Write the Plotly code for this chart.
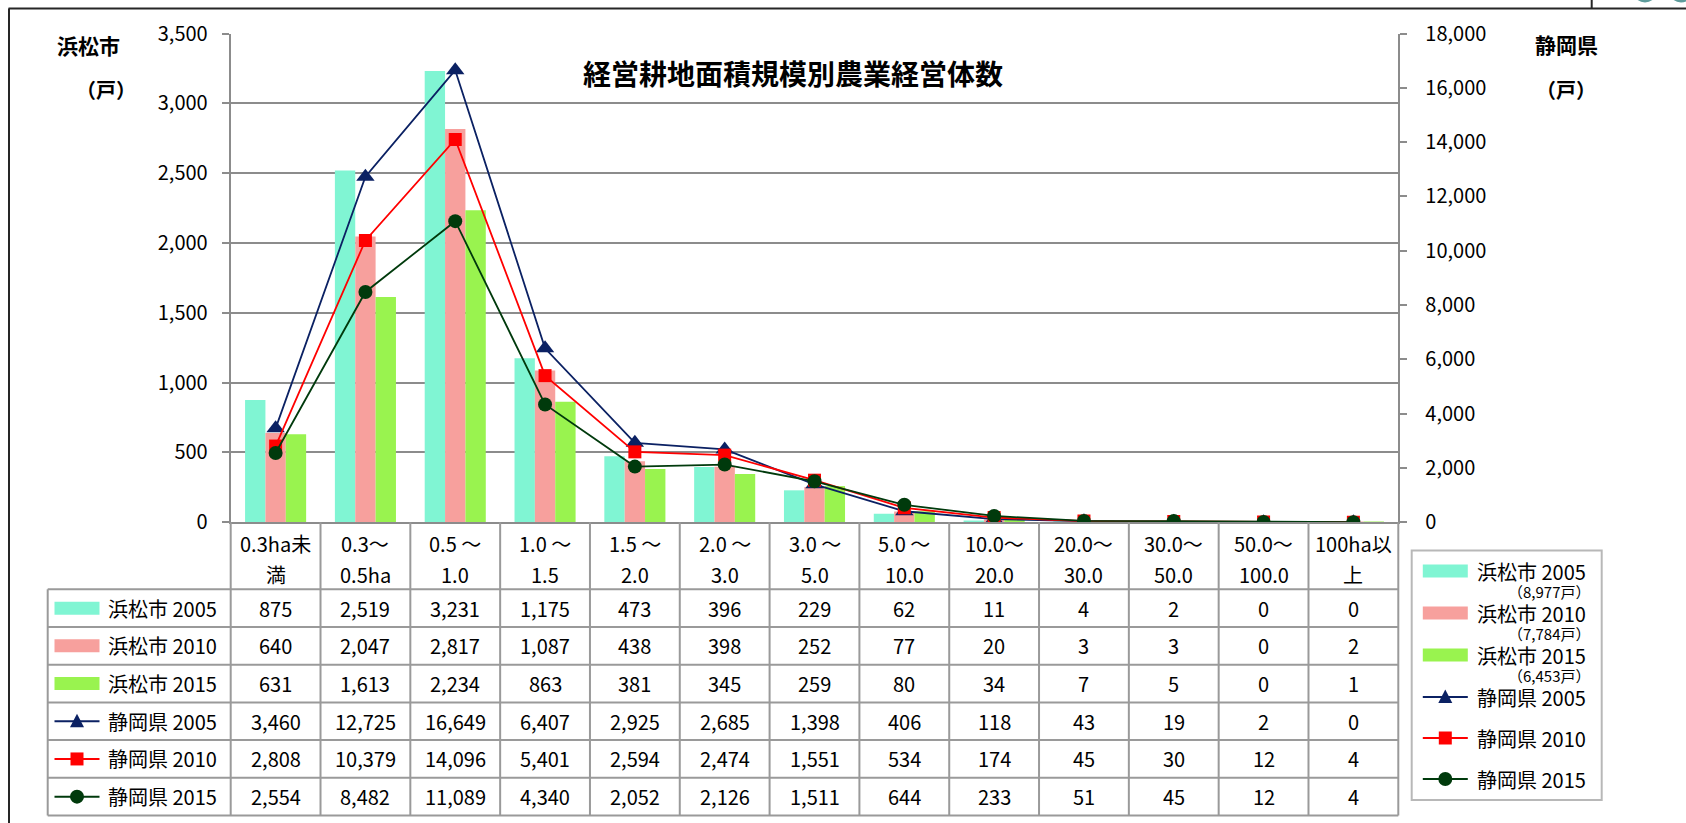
import plotly.graph_objects as go

W, H = 1686, 823

# ---- data -------------------------------------------------------------
categories = [
    "0.3ha未満", "0.3～0.5ha", "0.5 ～1.0", "1.0 ～1.5", "1.5 ～2.0",
    "2.0 ～3.0", "3.0 ～5.0", "5.0 ～10.0", "10.0～20.0", "20.0～30.0",
    "30.0～50.0", "50.0～100.0", "100ha以上",
]
header_top = ["0.3ha未", "0.3～", "0.5 ～", "1.0 ～", "1.5 ～", "2.0 ～", "3.0 ～",
              "5.0 ～", "10.0～", "20.0～", "30.0～", "50.0～", "100ha以"]
header_bottom = ["満", "0.5ha", "1.0", "1.5", "2.0", "3.0", "5.0",
                 "10.0", "20.0", "30.0", "50.0", "100.0", "上"]

hamamatsu_2005 = [875, 2519, 3231, 1175, 473, 396, 229, 62, 11, 4, 2, 0, 0]
hamamatsu_2010 = [640, 2047, 2817, 1087, 438, 398, 252, 77, 20, 3, 3, 0, 2]
hamamatsu_2015 = [631, 1613, 2234, 863, 381, 345, 259, 80, 34, 7, 5, 0, 1]
shizuoka_2005 = [3460, 12725, 16649, 6407, 2925, 2685, 1398, 406, 118, 43, 19, 2, 0]
shizuoka_2010 = [2808, 10379, 14096, 5401, 2594, 2474, 1551, 534, 174, 45, 30, 12, 4]
shizuoka_2015 = [2554, 8482, 11089, 4340, 2052, 2126, 1511, 644, 233, 51, 45, 12, 4]

series_names = ["浜松市 2005", "浜松市 2010", "浜松市 2015",
                "静岡県 2005", "静岡県 2010", "静岡県 2015"]

left_ticks = [0, 500, 1000, 1500, 2000, 2500, 3000, 3500]
right_ticks = list(range(0, 18001, 2000))

# ---- styles -------------------------------------------------------------
FONT = "Noto Sans CJK JP"
BAR_COLORS = ["#80F5D3", "#F7A09D", "#99F34F"]
LINE_COLORS = ["#0B2163", "#FF0000", "#003A0C"]
MARKERS = ["triangle-up", "square", "circle"]
MARKER_SIZES = [16, 13, 14]
GRID = "#8C8C8C"
TABLE_LINE = "#9A9A9A"

# pixel layout
PL, PR, PT, PB = 230.7, 1398.3, 33.5, 522.3
TL = 47.7
HEAD_B = 589.3
ROW_H = 37.7
N = len(categories)
COL_W = (PR - PL) / N


def px(x):
    return x / W


def py(y):
    return 1 - y / H


fig = go.Figure()

bar_series = [hamamatsu_2005, hamamatsu_2010, hamamatsu_2015]
line_series = [shizuoka_2005, shizuoka_2010, shizuoka_2015]

for i, vals in enumerate(bar_series):
    fig.add_trace(go.Bar(
        x=categories, y=vals, name=series_names[i],
        marker=dict(color=BAR_COLORS[i], line=dict(width=0)),
        yaxis="y", showlegend=False,
    ))

for i, vals in enumerate(line_series):
    fig.add_trace(go.Scatter(
        x=categories, y=vals, name=series_names[3 + i], yaxis="y2",
        mode="lines+markers",
        line=dict(color=LINE_COLORS[i], width=1.8),
        marker=dict(symbol=MARKERS[i], size=MARKER_SIZES[i],
                    color=LINE_COLORS[i], line=dict(width=0)),
        showlegend=False,
    ))

shapes = []
annotations = []


def line(x0, y0, x1, y1, color=TABLE_LINE, width=2):
    shapes.append(dict(type="line", xref="paper", yref="paper",
                       x0=px(x0), y0=py(y0), x1=px(x1), y1=py(y1),
                       line=dict(color=color, width=width), layer="above"))


def text(x, y, s, size=20, bold=False, xanchor="center", color="#000000"):
    annotations.append(dict(
        x=px(x), y=py(y), xref="paper", yref="paper", text=s, showarrow=False,
        xanchor=xanchor, yanchor="middle",
        font=dict(family=FONT, size=size, color=color,
                  weight=700 if bold else 400),
    ))


def swatch(cx, cy, kind, idx, half=22.5):
    """Legend key: a filled bar block or a line with its marker."""
    if kind == "bar":
        shapes.append(dict(type="rect", xref="paper", yref="paper",
                           x0=px(cx - half), x1=px(cx + half),
                           y0=py(cy + 6.5), y1=py(cy - 6.5),
                           fillcolor=BAR_COLORS[idx], line=dict(width=0),
                           layer="above"))
        return
    c = LINE_COLORS[idx]
    line(cx - half, cy, cx + half, cy, color=c, width=2)
    if idx == 0:
        path = (f"M {px(cx - 7)},{py(cy + 6)} L {px(cx + 7)},{py(cy + 6)} "
                f"L {px(cx)},{py(cy - 7.5)} Z")
        shapes.append(dict(type="path", xref="paper", yref="paper", path=path,
                           fillcolor=c, line=dict(width=0), layer="above"))
    elif idx == 1:
        shapes.append(dict(type="rect", xref="paper", yref="paper",
                           x0=px(cx - 6.5), x1=px(cx + 6.5),
                           y0=py(cy + 6.5), y1=py(cy - 6.5),
                           fillcolor=c, line=dict(width=0), layer="above"))
    else:
        r = 7
        shapes.append(dict(type="circle", xref="paper", yref="paper",
                           x0=px(cx - r), x1=px(cx + r), y0=py(cy + r), y1=py(cy - r),
                           fillcolor=c, line=dict(width=0), layer="above"))


# ---- data table under the plot -------------------------------------------
table_rows = bar_series + line_series
bottom = HEAD_B + ROW_H * len(table_rows)

# vertical rules
for k in range(N + 1):
    line(PL + k * COL_W, PB, PL + k * COL_W, bottom)
line(TL, HEAD_B, TL, bottom)
# horizontal rules
for r in range(len(table_rows) + 1):
    yy = HEAD_B + r * ROW_H
    line(TL, yy, PR, yy)

for k in range(N):
    cx = PL + (k + 0.5) * COL_W
    text(cx, 543.5, header_top[k])
    text(cx, 574.5, header_bottom[k])

for r, vals in enumerate(table_rows):
    cy = HEAD_B + (r + 0.5) * ROW_H
    kind = "bar" if r < 3 else "line"
    swatch(77, cy, kind, r % 3)
    text(106, cy, series_names[r], xanchor="left")
    for k, v in enumerate(vals):
        text(PL + (k + 0.5) * COL_W, cy, f"{v:,}")

# ---- legend box ----------------------------------------------------------
shapes.append(dict(type="rect", xref="paper", yref="paper",
                   x0=px(1411.7), x1=px(1601.7), y0=py(800), y1=py(550.5),
                   line=dict(color="#B8B8B8", width=2), fillcolor="rgba(0,0,0,0)"))
legend_y = [571, 613, 655, 697, 738, 779]
for r in range(6):
    kind = "bar" if r < 3 else "line"
    swatch(1445.3, legend_y[r], kind, r % 3)
    text(1475, legend_y[r], series_names[r], xanchor="left")
for r in range(3):
    total = sum(bar_series[r])
    text(1592, legend_y[r] + 20, f"（{total:,}戸）", size=15, xanchor="right")

# ---- titles --------------------------------------------------------------
text(793, 73, "経営耕地面積規模別農業経営体数", size=28, bold=True)
text(88, 45, "浜松市", size=21, bold=True)
text(106, 90, "（戸）", size=20, bold=True)
text(1566, 44, "静岡県", size=21, bold=True)
text(1566, 90, "（戸）", size=20, bold=True)

# ---- page frame ----------------------------------------------------------
line(8.5, 8.5, W, 8.5, color="#262626", width=2)
line(9, 8.5, 9, H, color="#262626", width=2)
line(1591.7, 0, 1591.7, 8.5, color="#262626", width=2)
for cx in (1645, 1681):
    shapes.append(dict(type="circle", xref="paper", yref="paper",
                       x0=px(cx - 12), x1=px(cx + 12), y0=py(2.5), y1=py(-21.5),
                       fillcolor="#5E9C9C", line=dict(width=0)))

fig.update_layout(
    template="none",
    width=W, height=H, autosize=False,
    margin=dict(l=0, r=0, t=0, b=0, pad=0, autoexpand=False),
    paper_bgcolor="white", plot_bgcolor="white",
    font=dict(family=FONT, size=20, color="#000000"),
    barmode="group", bargap=0.32, bargroupgap=0,
    showlegend=False,
    xaxis=dict(
        domain=[px(PL), px(PR)], type="category", range=[-0.5, N - 0.5],
        showticklabels=False, ticks="", showgrid=False, automargin=False,
        showline=True, linecolor=GRID, linewidth=2, zeroline=False,
    ),
    yaxis=dict(
        domain=[py(PB), py(PT)], range=[0, 3500], tickvals=left_ticks,
        tickformat=",", showgrid=True, gridcolor=GRID, gridwidth=2,
        showline=True, linecolor=GRID, linewidth=2, zeroline=False,
        ticks="outside", ticklen=7, tickcolor=GRID, tickwidth=2, automargin=False,
        ticklabelstandoff=10, tickfont=dict(family=FONT, size=20),
    ),
    yaxis2=dict(
        domain=[py(PB), py(PT)], range=[0, 18000], tickvals=right_ticks,
        tickformat=",", overlaying="y", side="right", showgrid=False,
        showline=True, linecolor=GRID, linewidth=2, zeroline=False,
        ticks="outside", ticklen=7, tickcolor=GRID, tickwidth=2, automargin=False,
        ticklabelstandoff=14, tickfont=dict(family=FONT, size=20),
    ),
    shapes=shapes,
    annotations=annotations,
)

fig.write_html("out.html", post_script="document.body.style.margin='0';")
